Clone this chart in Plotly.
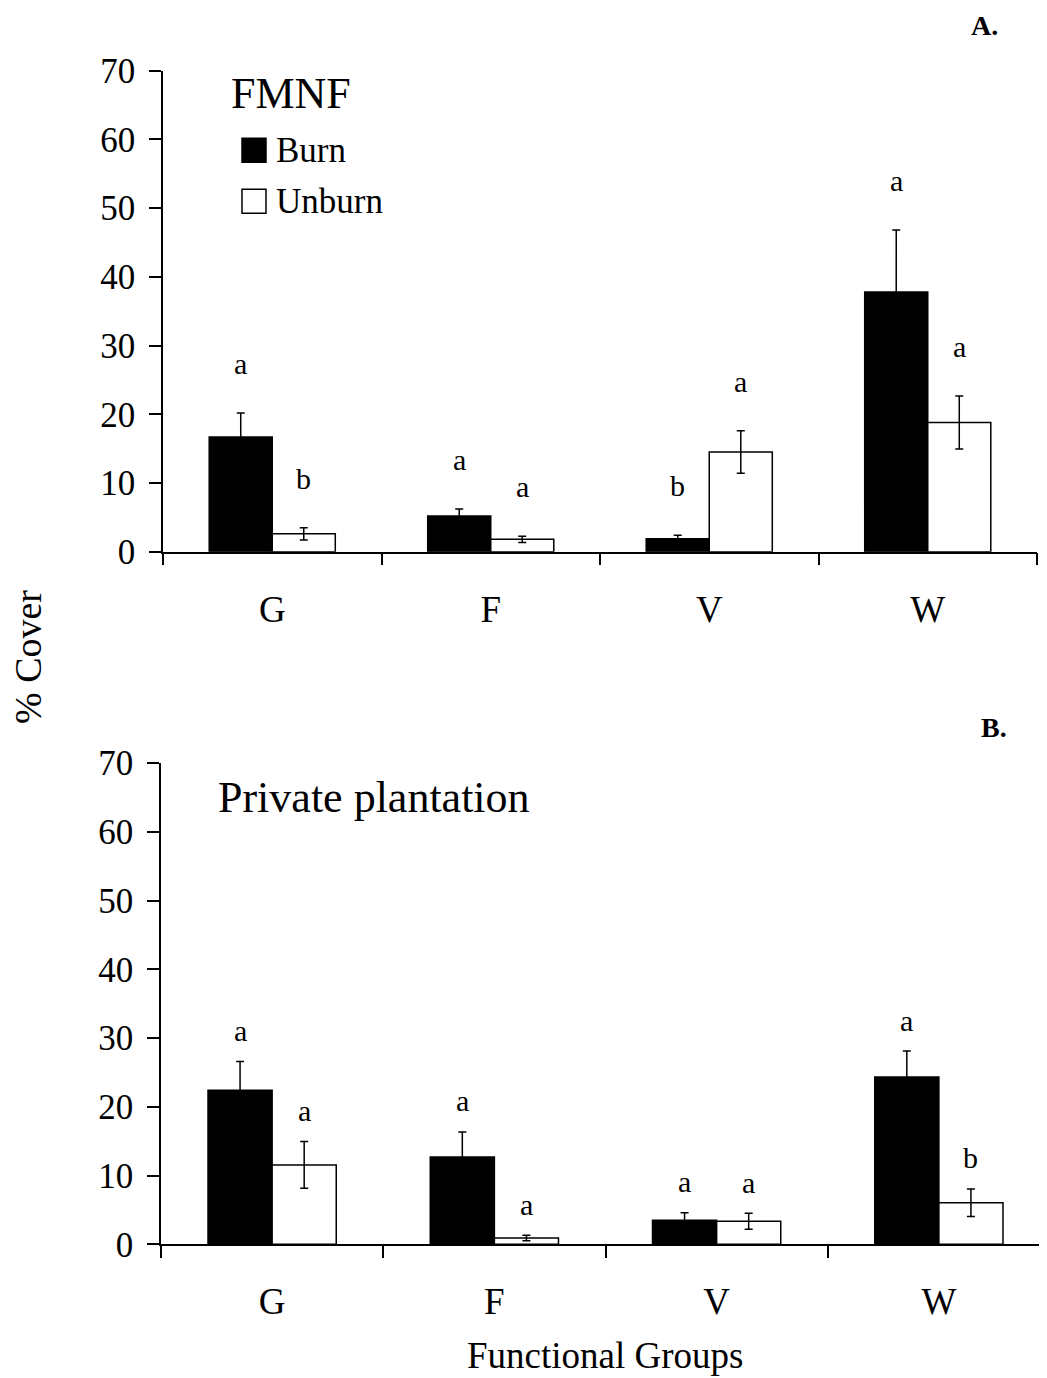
import plotly.graph_objects as go

# ---------------- data ----------------
categories = ["G", "F", "V", "W"]
series_names = ["Burn", "Unburn"]
series_colors = ["black", "white"]

fmnf_burn = [16.7, 5.2, 1.9, 37.8]
fmnf_burn_se = [3.5, 1.0, 0.5, 9.0]
fmnf_unburn = [2.6, 1.8, 14.5, 18.8]
fmnf_unburn_se = [0.9, 0.45, 3.1, 3.85]
fmnf_burn_letters = ["a", "a", "b", "a"]
fmnf_unburn_letters = ["b", "a", "a", "a"]

priv_burn = [22.4, 12.7, 3.5, 24.35]
priv_burn_se = [4.2, 3.65, 1.1, 3.75]
priv_unburn = [11.55, 0.9, 3.35, 6.05]
priv_unburn_se = [3.4, 0.4, 1.15, 2.0]
priv_burn_letters = ["a", "a", "a", "a"]
priv_unburn_letters = ["a", "a", "a", "b"]

panel_titles = ["FMNF", "Private plantation"]
panel_tags = ["A.", "B."]
y_ticks = [0, 10, 20, 30, 40, 50, 60, 70]
y_title = "% Cover"
x_title = "Functional Groups"

# ---------------- layout geometry ----------------
# the page body has an 8px default margin, so the figure is drawn 8px in from the window corner
OFF = 8
W, H = 1047 - OFF, 1378 - OFF
ML, MR, MT, MB = 161 - OFF, 0, 60 - OFF, 120
PW = W - ML - MR
PH = H - MT - MB
FONT = "Liberation Serif"
BARGAP = 0.423


def px_x(x):
    """window pixel x -> paper fraction"""
    return (x - OFF - ML) / PW


def px_y(y):
    """window pixel y -> paper fraction"""
    return (H - MB - (y - OFF)) / PH


panels = [
    dict(burn=fmnf_burn, burn_se=fmnf_burn_se, unburn=fmnf_unburn, unburn_se=fmnf_unburn_se,
         bl=fmnf_burn_letters, ul=fmnf_unburn_letters,
         xd=[px_x(163), px_x(1037)], yd=[px_y(551.7), px_y(70.7)], xr=[-0.5, 3.5],
         xa="x", ya="y", gap=31),
    dict(burn=priv_burn, burn_se=priv_burn_se, unburn=priv_unburn, unburn_se=priv_unburn_se,
         bl=priv_burn_letters, ul=priv_unburn_letters,
         xd=[px_x(161), px_x(1047)], yd=[px_y(1244.3), px_y(763)], xr=[-0.5, 3.4865],
         xa="x2", ya="y2", gap=12.5),
]

fig = go.Figure()
annotations = []
shapes = []

for p in panels:
    for name, color, vals, se in [
        (series_names[0], series_colors[0], p["burn"], p["burn_se"]),
        (series_names[1], series_colors[1], p["unburn"], p["unburn_se"]),
    ]:
        fig.add_trace(go.Bar(
            x=categories, y=vals, name=name, showlegend=False,
            marker=dict(color=color, line=dict(color="black", width=1.5)),
            error_y=dict(type="data", array=se, color="black", thickness=1.5, width=4),
            xaxis=p["xa"], yaxis=p["ya"],
        ))
    cat_px = (p["xd"][1] - p["xd"][0]) * PW / (p["xr"][1] - p["xr"][0])
    off = cat_px * (1 - BARGAP) / 4
    for i, c in enumerate(categories):
        for shift, vals, se, lets in [
            (-off, p["burn"], p["burn_se"], p["bl"]),
            (off, p["unburn"], p["unburn_se"], p["ul"]),
        ]:
            annotations.append(dict(
                x=c, y=vals[i] + se[i], xref=p["xa"], yref=p["ya"],
                text=lets[i], showarrow=False, xanchor="center", yanchor="bottom",
                xshift=shift, yshift=p["gap"],
                font=dict(family=FONT, size=30, color="black"),
            ))

axis_common = dict(showline=True, linecolor="black", linewidth=1.5, ticks="outside",
                   ticklen=12, tickwidth=1.5, tickcolor="black", showgrid=False,
                   zeroline=False, mirror=False)

layout_axes = {}
for k, p in enumerate(panels):
    sx = "" if k == 0 else "2"
    layout_axes["xaxis" + sx] = dict(
        axis_common, domain=p["xd"], anchor="y" + sx, type="category",
        categoryorder="array", categoryarray=categories, range=p["xr"],
        tickson="boundaries", ticklabelstandoff=24,
        tickfont=dict(family=FONT, size=37, color="black"),
    )
    layout_axes["yaxis" + sx] = dict(
        axis_common, domain=p["yd"], anchor="x" + sx, range=[0, 70],
        tickmode="array", tickvals=y_ticks, ticklabelstandoff=7,
        tickfont=dict(family=FONT, size=35, color="black"),
    )

# panel titles
annotations.append(dict(x=px_x(229), y=px_y(93), xref="paper", yref="paper", text=panel_titles[0],
                        showarrow=False, xanchor="left", yanchor="middle",
                        font=dict(family=FONT, size=44, color="black")))
annotations.append(dict(x=px_x(215.5), y=px_y(797), xref="paper", yref="paper", text=panel_titles[1],
                        showarrow=False, xanchor="left", yanchor="middle",
                        font=dict(family=FONT, size=44, color="black")))
# panel tags
annotations.append(dict(x=px_x(984), y=px_y(25.5), xref="paper", yref="paper", text="<b>%s</b>" % panel_tags[0],
                        showarrow=False, xanchor="center", yanchor="middle",
                        font=dict(family=FONT, size=28, color="black")))
annotations.append(dict(x=px_x(994), y=px_y(727), xref="paper", yref="paper", text="<b>%s</b>" % panel_tags[1],
                        showarrow=False, xanchor="center", yanchor="middle",
                        font=dict(family=FONT, size=28, color="black")))
# axis titles
annotations.append(dict(x=px_x(28), y=px_y(657), xref="paper", yref="paper", text=y_title,
                        showarrow=False, xanchor="center", yanchor="middle", textangle=-90,
                        font=dict(family=FONT, size=38, color="black")))
annotations.append(dict(x=px_x(605), y=px_y(1355.5), xref="paper", yref="paper", text=x_title,
                        showarrow=False, xanchor="center", yanchor="middle",
                        font=dict(family=FONT, size=37, color="black")))

# legend (panel A)
leg_rows = [(150.3, series_names[0], series_colors[0]), (201.3, series_names[1], series_colors[1])]
for yc, name, color in leg_rows:
    shapes.append(dict(type="rect", xref="paper", yref="paper",
                       x0=px_x(242), x1=px_x(266), y0=px_y(yc + 12), y1=px_y(yc - 12),
                       fillcolor=color, line=dict(color="black", width=1.5)))
    annotations.append(dict(x=px_x(274), y=px_y(yc), xref="paper", yref="paper", text=name,
                            showarrow=False, xanchor="left", yanchor="middle",
                            font=dict(family=FONT, size=35, color="black")))

fig.update_layout(
    width=W, height=H,
    margin=dict(l=ML, r=MR, t=MT, b=MB, pad=0),
    paper_bgcolor="white", plot_bgcolor="white",
    barmode="group", bargap=BARGAP, bargroupgap=0,
    showlegend=False,
    annotations=annotations, shapes=shapes,
    font=dict(family=FONT, color="black"),
    **layout_axes,
)

fig.write_html("out.html")
